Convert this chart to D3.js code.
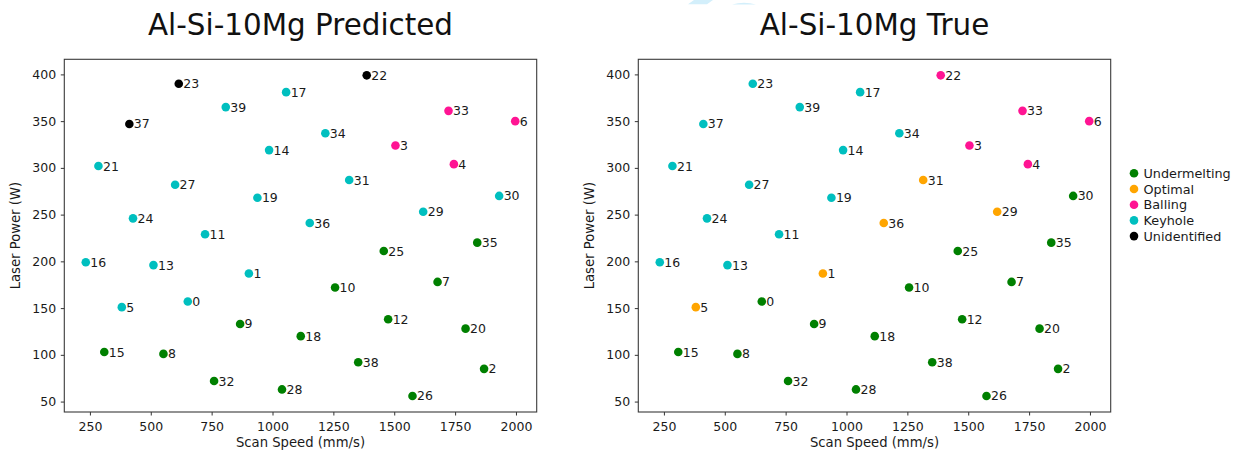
<!DOCTYPE html>
<html>
<head>
<meta charset="utf-8">
<script src="https://cdn.jsdelivr.net/npm/d3@7/dist/d3.min.js"></script>
<style>
  html, body { margin: 0; padding: 0; background: #fff; }
  svg { display: block; font-family: "DejaVu Sans", sans-serif; }
  .tick text { fill: #1a1a1a; }
</style>
</head>
<body>
<svg id="chart" width="1243" height="456"></svg>
<script>
// Sample ids 0..39: scan speed (mm/s) and laser power (W)
const sampleIds = d3.range(40);
const scanSpeed = [652, 903, 1869, 1505, 1745, 381, 1997, 1678, 552, 867,
                   1257, 723, 1475, 511, 986, 309, 233, 1056, 1116, 938,
                   1793, 285, 1387, 615, 427, 1457, 1575, 600, 1039, 1619,
                   1931, 1315, 760, 1723, 1217, 1841, 1153, 412, 1352, 808];
const laserPower = [157, 187, 85, 324, 304, 151, 350, 178, 101, 133,
                    172, 229, 138, 196, 319, 103, 199, 381, 120, 268,
                    128, 302, 399, 390, 246, 211, 56, 282, 63, 253,
                    270, 287, 72, 361, 337, 220, 241, 347, 92, 365];

// Melt-pool classes
const classNames = ["Undermelting", "Optimal", "Balling", "Keyhole", "Unidentified"];
const classColors = ["#008000", "#ffa500", "#ff1493", "#00bfbf", "#000000"];

// Class index per sample (0 Undermelting, 1 Optimal, 2 Balling, 3 Keyhole, 4 Unidentified)
const predictedClass = [3, 3, 0, 2, 2, 3, 2, 0, 0, 0,
                        0, 3, 0, 3, 3, 0, 3, 3, 0, 3,
                        0, 3, 4, 4, 3, 0, 0, 3, 0, 3,
                        3, 3, 0, 2, 3, 0, 3, 4, 0, 3];
const trueClass = [0, 1, 0, 2, 2, 1, 2, 0, 0, 0,
                   0, 3, 0, 3, 3, 0, 3, 3, 0, 3,
                   0, 3, 2, 3, 3, 0, 0, 3, 0, 1,
                   0, 1, 0, 2, 3, 0, 1, 3, 0, 3];

const xTicks = [250, 500, 750, 1000, 1250, 1500, 1750, 2000];
const yTicks = [50, 100, 150, 200, 250, 300, 350, 400];

const panels = [
  { title: "Al-Si-10Mg Predicted", classes: predictedClass, left: 64.3 },
  { title: "Al-Si-10Mg True", classes: trueClass, left: 638.3 }
];

const svg = d3.select("#chart");
const plotTop = 59.3, W = 472.4, H = 352.7;
const fs = 12.5;       // tick and point labels
const labelFs = 13.2;  // axis titles
const legendFs = 12.8;

// faint decoration at the top edge
const deco = svg.append("g").attr("fill", "#d3effb");
deco.append("path").attr("d", "M688,4.3 L694,0 L713,0 L707,4.3 Z");
deco.append("path").attr("d", "M732,4.5 Q744,0.8 756,4.5 Z");

// padded domains, 5% on each side of the data extent
function padded(vals) {
  const [lo, hi] = d3.extent(vals);
  const p = (hi - lo) * 0.05;
  return [lo - p, hi + p];
}
const x = d3.scaleLinear().domain(padded(scanSpeed)).range([0, W]);
const y = d3.scaleLinear().domain(padded(laserPower)).range([H, 0]);

const rows = sampleIds.map(i => ({ id: i, s: scanSpeed[i], p: laserPower[i] }));

panels.forEach(panel => {
  const g = svg.append("g").attr("transform", `translate(${panel.left},${plotTop})`);

  // axes
  const xa = g.append("g").attr("transform", `translate(0,${H})`)
    .call(d3.axisBottom(x).tickValues(xTicks).tickSize(3.5).tickPadding(7).tickFormat(d3.format("d")));
  const ya = g.append("g")
    .call(d3.axisLeft(y).tickValues(yTicks).tickSize(3.5).tickPadding(4.6).tickFormat(d3.format("d")));
  [xa, ya].forEach(a => {
    a.select(".domain").remove();
    a.selectAll(".tick line").attr("stroke", "#333").attr("stroke-width", 1);
    a.selectAll(".tick text").attr("font-size", fs).attr("font-family", "DejaVu Sans");
  });

  // frame
  g.append("rect").attr("x", 0).attr("y", 0).attr("width", W).attr("height", H)
    .attr("fill", "none").attr("stroke", "#3a3a3a").attr("stroke-width", 1.1);

  // points
  g.append("g").selectAll("circle").data(rows).join("circle")
    .attr("cx", d => x(d.s)).attr("cy", d => y(d.p)).attr("r", 4.3)
    .attr("fill", d => classColors[panel.classes[d.id]]);

  // point labels
  g.append("g").selectAll("text").data(rows).join("text")
    .attr("x", d => x(d.s) + 4.5).attr("y", d => y(d.p) + 4.5)
    .attr("font-size", fs).attr("fill", "#1a1a1a")
    .text(d => d.id);

  // title
  g.append("text").attr("x", W / 2).attr("y", 34.5 - plotTop)
    .attr("text-anchor", "middle").attr("font-size", 29.4).attr("fill", "#111")
    .text(panel.title);

  // axis titles
  g.append("text").attr("x", W / 2).attr("y", 447.5 - plotTop)
    .attr("text-anchor", "middle").attr("font-size", labelFs).attr("fill", "#1a1a1a")
    .text("Scan Speed (mm/s)");
  g.append("text")
    .attr("transform", `translate(-44.3,${H / 2}) rotate(-90)`)
    .attr("text-anchor", "middle").attr("font-size", labelFs).attr("fill", "#1a1a1a")
    .text("Laser Power (W)");
});

// legend
const legend = svg.append("g").attr("transform", "translate(1134,173.3)");
const item = legend.selectAll("g").data(classNames).join("g")
  .attr("transform", (d, i) => `translate(0,${i * 15.7})`);
item.append("circle").attr("r", 4.3).attr("fill", (d, i) => classColors[i]);
item.append("text").attr("x", 9.5).attr("y", 4.6).attr("font-size", legendFs)
  .attr("fill", "#1a1a1a").text(d => d);
</script>
</body>
</html>
